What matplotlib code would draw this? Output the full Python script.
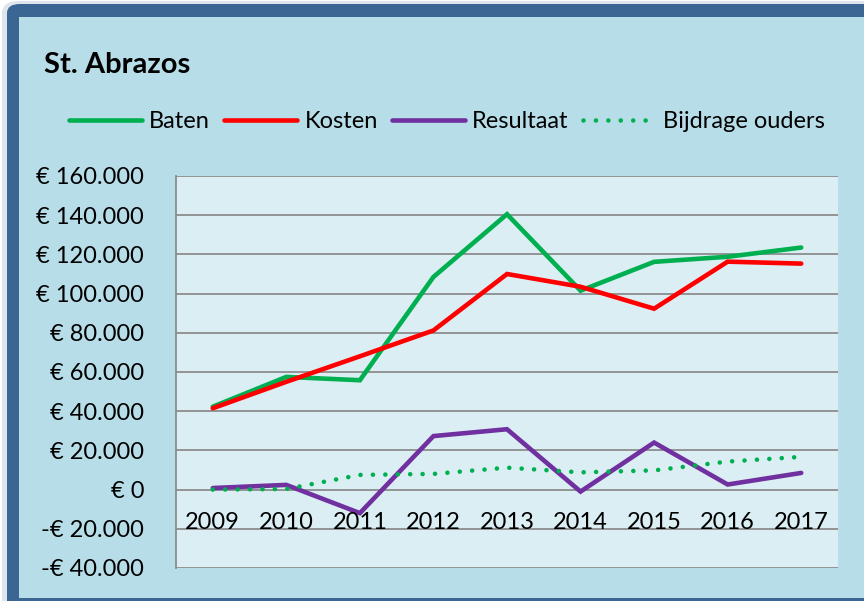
"""St. Abrazos - baten, kosten en resultaat per jaar."""

import matplotlib

matplotlib.use("Agg")
import matplotlib.pyplot as plt
from matplotlib.patches import FancyBboxPatch, Rectangle
from matplotlib.ticker import FuncFormatter, MultipleLocator
from matplotlib.transforms import offset_copy

years = ["2009", "2010", "2011", "2012", "2013", "2014", "2015", "2016", "2017"]
baten = [42300, 57500, 55800, 108500, 140500, 101500, 116200, 118800, 123500]
kosten = [41500, 55000, 68000, 81200, 110000, 103500, 92300, 116300, 115300]
resultaat = [800, 2400, -12000, 27300, 30800, -1000, 24000, 2600, 8500]
bijdrage = [0, 300, 7500, 8000, 11200, 8800, 9800, 14300, 16700]

GREEN = "#00b050"
RED = "#ff0000"
PURPLE = "#7030a0"
GRID = "#8c8c8c"
W, H = 864, 601

plt.rcParams["font.family"] = ["Lato", "DejaVu Sans"]


def fx(px):
    return px / W


def fy(py):
    return 1 - py / H


def euro(v, _pos=None):
    s = f"{abs(int(round(v))):,}".replace(",", ".")
    return f"-€ {s}" if v < 0 else f"€ {s}"


fig = plt.figure(figsize=(W / 100, H / 100), dpi=100)
fig.patch.set_facecolor("white")

# soft shadow, dark blue rim, light blue fill
fig.add_artist(FancyBboxPatch((fx(2), fy(640)), fx(900), (640 - 1) / H,
                              boxstyle="round,pad=0,rounding_size=0.02",
                              transform=fig.transFigure, facecolor="#dfe5ec",
                              edgecolor="none", zorder=0))
fig.add_artist(FancyBboxPatch((fx(7), fy(640)), fx(900), (640 - 4) / H,
                              boxstyle="round,pad=0,rounding_size=0.015",
                              transform=fig.transFigure, facecolor="#3b6593",
                              edgecolor="none", zorder=0))
fig.add_artist(Rectangle((fx(19), fy(598)), fx(900), (598 - 17) / H,
                         transform=fig.transFigure, facecolor="#b7dde8",
                         edgecolor="none", zorder=0))

ax = fig.add_axes([fx(176), fy(568), fx(838 - 176), (568 - 176) / H])
ax.set_facecolor("#dbeef4")
x = list(range(len(years)))

ax.plot(x, baten, color=GREEN, lw=3.3, solid_capstyle="round", solid_joinstyle="miter", label="Baten")
ax.plot(x, kosten, color=RED, lw=3.3, solid_capstyle="round", solid_joinstyle="miter", label="Kosten")
ax.plot(x, resultaat, color=PURPLE, lw=3.3, solid_capstyle="round", solid_joinstyle="miter", label="Resultaat")
ax.plot(x, bijdrage, color=GREEN, lw=3.3, ls=(0, (0.01, 2.7)), dash_capstyle="round",
        label="Bijdrage ouders")

ax.set_xlim(-0.5, len(years) - 0.5)
ax.set_ylim(-40000, 160000)
ax.yaxis.set_major_locator(MultipleLocator(20000))
ax.yaxis.set_major_formatter(FuncFormatter(euro))
ax.grid(axis="y", color=GRID, lw=1.3)
ax.set_axisbelow(True)
for side in ["top", "right", "bottom"]:
    ax.spines[side].set_visible(False)
ax.spines["left"].set_color(GRID)
ax.spines["left"].set_linewidth(1.3)
ax.set_xticks([])
ax.tick_params(axis="y", length=0, pad=23, labelsize=17)

# category labels sit just under the zero line
lab_tr = offset_copy(ax.transData, fig=fig, y=-33, units="dots")
for i, yr in enumerate(years):
    ax.text(i, 0, yr, transform=lab_tr, ha="center", va="center", fontsize=17)

fig.text(fx(44), fy(65), "St. Abrazos", fontsize=21, fontweight="bold", va="center")

handles, labels = ax.get_legend_handles_labels()
fig.legend(handles, labels, loc="center", bbox_to_anchor=(fx(447), fy(122)), ncol=4,
           frameon=False, fontsize=17, handlelength=3.1, handletextpad=0.3,
           columnspacing=0.6, borderpad=0, borderaxespad=0)

fig.savefig("out.png", dpi=100)
